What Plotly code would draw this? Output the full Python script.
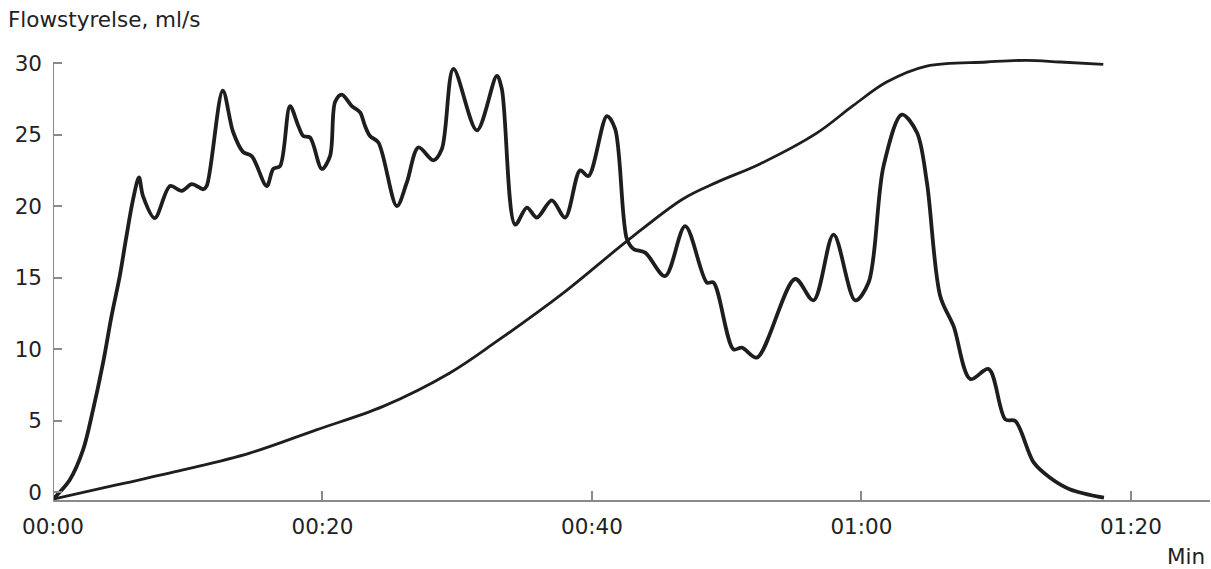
import plotly.graph_objects as go

# Flow rate (ml/s) over time (s)
flow_t = [0, 1.24, 2.23, 2.97, 3.71, 4.34, 4.95, 5.45, 5.94, 6.38, 6.68, 7.55, 8.69, 9.55, 10.30,
          11.16, 11.41, 12.60, 13.36, 14.1, 14.75, 15.86, 16.35, 16.85, 17.59, 18.21, 18.58,
          19.08, 19.95, 20.56, 20.94, 21.43, 22.18, 22.79, 23.16, 23.53, 24.15, 25.52, 26.26,
          27.12, 28.23, 28.86, 29.72, 31.46, 32.94, 33.31, 34.30, 35.17, 35.91, 37.02, 38.01,
          39.12, 39.74, 41.11, 41.72, 42.59, 43.08, 43.95, 45.43, 46.92, 48.53, 49.02, 50.5,
          51.13, 52.24, 55.08, 56.44, 57.93, 59.54, 60.53, 61.64, 63.0, 64.12, 64.86, 65.85,
          66.84, 68.08, 69.44, 70.68, 71.42, 72.78, 74.0, 75.5, 78.0]
flow_v = [-0.5, 0.84, 2.94, 5.74, 9.01, 12.28, 15.08, 17.88, 20.45, 22.0, 20.7, 19.16, 21.4, 21.06, 21.53,
          21.18, 21.41, 28.07, 25.2, 23.8, 23.5, 21.4, 22.6, 22.8, 27.0, 25.6, 24.9,
          24.8, 22.6, 23.5, 27.3, 27.8, 27.0, 26.55, 25.6, 24.9, 24.45, 20.0, 21.65,
          24.1, 23.2, 24.0, 29.6, 25.3, 29.1, 28.2, 18.7, 19.9, 19.2, 20.4, 19.2,
          22.5, 22.1, 26.3, 25.4, 17.7, 17.0, 16.75, 15.1, 18.6, 14.65, 14.65, 9.98,
          10.1, 9.4, 14.9, 13.4, 18.0, 13.4, 14.65, 22.8, 26.4, 25.15, 21.65, 13.7,
          11.6, 7.9, 8.6, 5.08, 4.96, 2.07, 1.0, 0.18, -0.4]

# Accumulated volume curve (scaled to the same axis)
vol_t = [0, 4.71, 9.65, 14.6, 19.55, 24.5, 29.45, 32.92, 37.86, 42.57, 46.75, 49.25,
         52.47, 56.68, 59.4, 61.87, 64.84, 69.3, 72.27, 74.75, 77.95]
vol_v = [-0.5, 0.49, 1.54, 2.72, 4.35, 5.99, 8.33, 10.53, 13.91, 17.53, 20.5, 21.66,
         22.95, 25.1, 27.04, 28.68, 29.8, 30.08, 30.2, 30.08, 29.92]

x_tickvals = [0, 20, 40, 60, 80]
x_ticktext = ["00:00", "00:20", "00:40", "01:00", "01:20"]
y_tickvals = [0, 5, 10, 15, 20, 25, 30]

Y_MIN, Y_MAX, Y_AXIS_TOP = -0.56, 30.5, 30.0
X_MAX = 85.87

FONT = "DejaVu Sans"
FS = 21.5
AX = "#8a8a8a"
INK = "#1e1e1e"

fig = go.Figure()
fig.add_trace(go.Scatter(x=vol_t, y=vol_v, mode="lines",
                         line=dict(color=INK, width=2.8, shape="spline", smoothing=1.0),
                         hoverinfo="skip"))
fig.add_trace(go.Scatter(x=flow_t, y=flow_v, mode="lines",
                         line=dict(color=INK, width=3.8, shape="spline", smoothing=0.9),
                         hoverinfo="skip"))

# y axis line only up to the 30 tick
fig.add_shape(type="line", xref="x", yref="y", x0=0, x1=0, y0=Y_MIN, y1=Y_AXIS_TOP,
              line=dict(color=AX, width=2), layer="above")

plot_h = 500 - 56.4
fig.update_layout(
    width=1211, height=569,
    margin=dict(l=53, r=1, t=56.4, b=69),
    paper_bgcolor="white", plot_bgcolor="white",
    showlegend=False,
    font=dict(family=FONT, size=FS, color="#222"),
    xaxis=dict(range=[0, X_MAX], tickvals=x_tickvals, ticktext=x_ticktext,
               showgrid=False, zeroline=False, showline=True, linecolor=AX, linewidth=2,
               ticks="inside", ticklen=9, tickwidth=1.5, tickcolor=AX,
               ticklabelstandoff=6, tickfont=dict(family=FONT, size=FS, color="#222")),
    yaxis=dict(range=[Y_MIN, Y_MAX], tickvals=y_tickvals,
               showgrid=False, zeroline=False, showline=False,
               ticks="inside", ticklen=9, tickwidth=2, tickcolor=AX,
               ticklabelstandoff=10, tickfont=dict(family=FONT, size=FS, color="#222")),
    annotations=[
        dict(text="Flowstyrelse, ml/s", xref="paper", yref="paper", x=-53/1157,
             y=1 + 36.4/plot_h, xanchor="left", yanchor="middle", showarrow=False, xshift=6,
             font=dict(family=FONT, size=FS, color="#222")),
        dict(text="Min", xref="paper", yref="paper", x=1, y=-56/plot_h,
             xanchor="right", yanchor="middle", showarrow=False, xshift=-3,
             font=dict(family=FONT, size=FS, color="#222")),
    ],
)

fig.write_html("out.html", config={"displayModeBar": False},
               post_script="document.body.style.margin='0';")
